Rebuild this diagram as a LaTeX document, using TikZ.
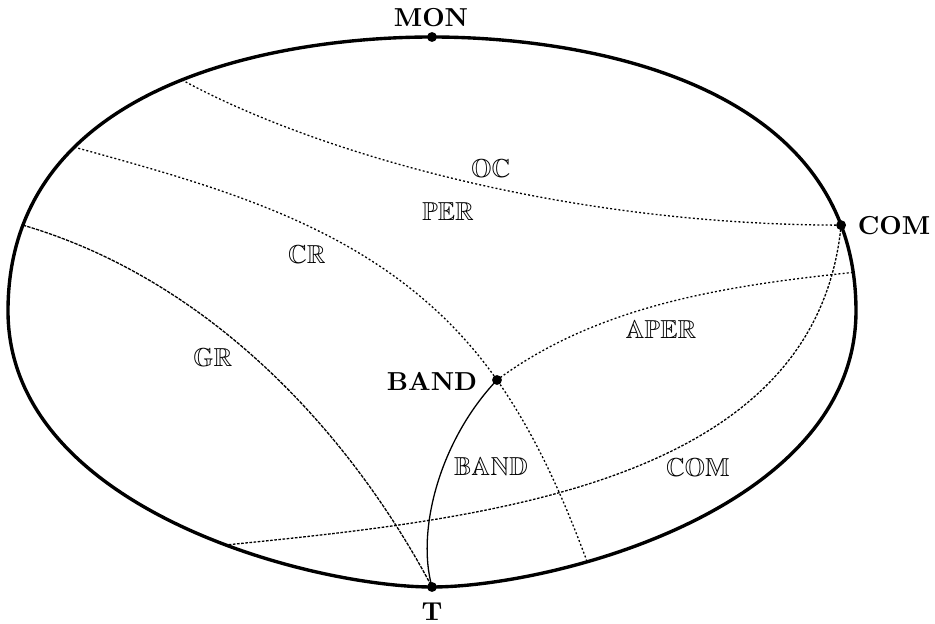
\documentclass[tikz,border=0pt]{standalone}
\usepackage{amssymb}
\tikzset{
  rim/.style={line width=1.3pt},
  fine/.style={line width=0.5pt},
  dotline/.style={fine, dash pattern=on 0.75pt off 0.85pt},
  dashline/.style={fine, dash pattern=on 1.3pt off 0.45pt},
  semidot/.style={fine, dash pattern=on 1pt off 0.6pt},
  solidline/.style={fine},
  dotmark/.style={fill=black},
  tag/.style={font=\bfseries, inner sep=0pt},
  reg/.style={inner sep=0pt}
}
\begin{document}
\begin{tikzpicture}[x=0.3846pt,y=-0.3846pt]
\useasboundingbox (0,0) rectangle (935,624);
\coordinate (MON) at (432,37);
\coordinate (T) at (432,587);
\coordinate (BAND) at (497,380);
% rim
\draw[rim] (8,311) .. controls (8,78.1) and (287.8,37) .. (432,37)
   coordinate[pos=0.138] (C0) coordinate[pos=0.305] (B0) coordinate[pos=0.53] (A0)
   .. controls (576.2,37) and (856,78.1) .. (856,311)
   coordinate[pos=0.862] (COM) coordinate[pos=0.942] (E1)
   .. controls (856,509.7) and (550.7,587) .. (432,587)
   coordinate[pos=0.68] (B1)
   .. controls (313.3,587) and (8,509.7) .. (8,311)
   coordinate[pos=0.41] (F1) -- cycle;
% inner curves
\draw[dotline] (A0) .. controls (310,150) and (560,225) .. (COM);
\draw[dotline] (B0) .. controls (236,191.7) and (395,234.8) .. (BAND)
   .. controls (536,435.6) and (563.6,498.3) .. (B1);
\draw[dashline] (C0) .. controls (200,277) and (343,420) .. (T);
\draw[solidline] (BAND) .. controls (440,440) and (416,530) .. (T);
\draw[dotline] (BAND) .. controls (598,305) and (727,285.5) .. (E1);
\draw[semidot] (COM) .. controls (816,484.6) and (485.6,519) .. (F1);
% points
\fill[dotmark] (MON) circle[radius=1.9pt];
\fill[dotmark] (COM) circle[radius=1.9pt];
\fill[dotmark] (BAND) circle[radius=1.9pt];
\fill[dotmark] (T) circle[radius=1.9pt];
% labels
\node[tag] (lMON) at (431,18) {MON};
\node[tag] (lCOM) at (894,226) {COM};
\node[tag] (lBAND) at (432,381) {BAND};
\node[tag] (lT) at (432,612) {T};
\node[reg] (rOC) at (491,171) {$\mathbb{OC}$};
\node[reg] (rPER) at (448,212) {$\mathbb{PER}$};
\node[reg] (rCR) at (307,255) {$\mathbb{CR}$};
\node[reg] (rGR) at (213,358) {$\mathbb{GR}$};
\node[reg] (rAPER) at (661,330) {$\mathbb{APER}$};
\node[reg] (rBAND) at (491,467) {$\mathbb{BAND}$};
\node[reg] (rCOM) at (698,470) {$\mathbb{COM}$};
\end{tikzpicture}
\end{document}
